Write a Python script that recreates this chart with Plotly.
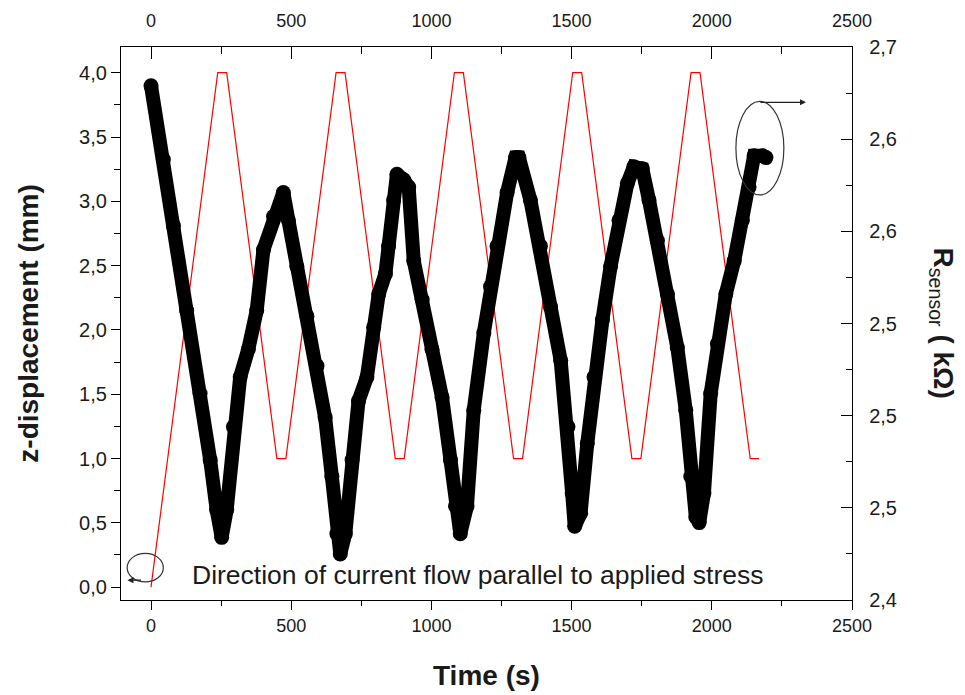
"""
Sensor resistance vs applied z-displacement (cyclic loading).
"""

import plotly.graph_objects as go

# red triangular z-displacement program (left axis, mm)
disp_t = [0, 238, 270, 449, 481, 660, 692, 871, 903, 1082, 1114, 1293, 1325,
          1504, 1536, 1715, 1747, 1926, 1958, 2137, 2169]
disp_mm = [0.0, 4.0, 4.0, 1.0, 1.0, 4.0, 4.0, 1.0, 1.0, 4.0, 4.0, 1.0, 1.0,
           4.0, 4.0, 1.0, 1.0, 4.0, 4.0, 1.0, 1.0]

# black sensor resistance (right axis, kOhm)
res_t = [0, 44, 80, 127, 175, 211, 234, 252, 270, 294, 318, 347, 377, 401, 437,
         472, 490, 520, 556, 592, 621, 645, 663, 675, 693, 717, 740, 770, 794,
         812, 836, 847, 865, 877, 901, 919, 937, 967, 1002, 1038, 1068, 1086,
         1103, 1127, 1151, 1187, 1211, 1234, 1270, 1300, 1312, 1353, 1389,
         1425, 1461, 1487, 1502, 1511, 1532, 1556, 1580, 1610, 1639, 1669,
         1699, 1722, 1752, 1776, 1806, 1842, 1877, 1907, 1925, 1943, 1955,
         1972, 1996, 2020, 2050, 2080, 2109, 2133, 2151, 2181, 2193]
res_kohm = [2.679, 2.639, 2.603, 2.557, 2.512, 2.476, 2.449, 2.434, 2.449,
            2.494, 2.521, 2.536, 2.557, 2.590, 2.608, 2.621, 2.606, 2.581,
            2.554, 2.527, 2.499, 2.467, 2.436, 2.425, 2.436, 2.476, 2.508,
            2.521, 2.548, 2.566, 2.577, 2.592, 2.617, 2.631, 2.628, 2.624,
            2.584, 2.563, 2.536, 2.510, 2.476, 2.451, 2.436, 2.451, 2.503,
            2.545, 2.570, 2.592, 2.621, 2.640, 2.640, 2.617, 2.592, 2.559,
            2.530, 2.494, 2.458, 2.440, 2.447, 2.485, 2.521, 2.552, 2.581,
            2.606, 2.626, 2.635, 2.634, 2.617, 2.595, 2.566, 2.537, 2.503,
            2.467, 2.445, 2.442, 2.458, 2.512, 2.539, 2.566, 2.584, 2.606,
            2.624, 2.641, 2.641, 2.640]

x_ticks = [0, 500, 1000, 1500, 2000, 2500]
left_ticks = [0.0, 0.5, 1.0, 1.5, 2.0, 2.5, 3.0, 3.5, 4.0]
left_labels = ["0,0", "0,5", "1,0", "1,5", "2,0", "2,5", "3,0", "3,5", "4,0"]
right_ticks = [2.40, 2.45, 2.50, 2.55, 2.60, 2.65, 2.70]
right_labels = ["2,4", "2,5", "2,5", "2,5", "2,6", "2,6", "2,7"]

FONT = "Liberation Sans, Arial, sans-serif"
INK = "#1a1a1a"

fig = go.Figure()
fig.add_trace(
    go.Scatter(
        x=disp_t, y=disp_mm, xaxis="x", yaxis="y",
        mode="lines",
        line=dict(color="#ff0000", width=1.2),
        showlegend=False,
    )
)
# transparent copy so the top (x2) axis gets drawn
fig.add_trace(
    go.Scatter(
        x=disp_t, y=disp_mm, xaxis="x2", yaxis="y",
        mode="lines", line=dict(width=0), opacity=0,
        hoverinfo="skip", showlegend=False,
    )
)
fig.add_trace(
    go.Scatter(
        x=res_t, y=res_kohm, xaxis="x", yaxis="y2",
        mode="lines+markers",
        line=dict(color="black", width=14),
        marker=dict(color="black", size=15),
        showlegend=False,
    )
)

axis_common = dict(
    showline=True, linecolor="black", linewidth=1.3,
    showgrid=False, zeroline=False, automargin=False,
    tickcolor="black", tickwidth=1.3,
)

# page body adds an 8px offset, so the figure is 8px smaller than the window
fig.update_layout(
    width=957, height=687,
    margin=dict(l=113, r=113, t=39, b=95),
    paper_bgcolor="white", plot_bgcolor="white",
    xaxis=dict(
        **axis_common, range=[-107, 2500], anchor="y",
        tickfont=dict(family=FONT, size=18, color=INK),
        tickmode="array", tickvals=x_ticks, ticktext=[str(v) for v in x_ticks],
        ticks="outside", ticklen=9,
        minor=dict(tickmode="linear", tick0=0, dtick=250, ticks="outside",
                   ticklen=5, tickcolor="black", tickwidth=1.3),
    ),
    xaxis2=dict(
        **axis_common, range=[-107, 2500], overlaying="x", side="top", anchor="y",
        tickfont=dict(family=FONT, size=18, color=INK),
        tickmode="array", tickvals=x_ticks, ticktext=[str(v) for v in x_ticks],
        ticks="inside", ticklen=12, ticklabelstandoff=12,
        minor=dict(tickmode="linear", tick0=0, dtick=250, ticks="inside",
                   ticklen=7, tickcolor="black", tickwidth=1.3),
    ),
    yaxis=dict(
        **axis_common, range=[-0.1, 4.2], anchor="x",
        tickfont=dict(family=FONT, size=20, color=INK),
        tickmode="array", tickvals=left_ticks, ticktext=left_labels,
        ticks="outside", ticklen=9,
        minor=dict(tickmode="linear", tick0=0, dtick=0.25, ticks="outside",
                   ticklen=6, tickcolor="black", tickwidth=1.3),
    ),
    yaxis2=dict(
        **axis_common, range=[2.4, 2.7], overlaying="y", side="right", anchor="x",
        tickfont=dict(family=FONT, size=20, color=INK),
        tickmode="array", tickvals=right_ticks, ticktext=right_labels,
        ticks="inside", ticklen=11, ticklabelstandoff=12,
        minor=dict(tickmode="linear", tick0=2.4, dtick=0.025, ticks="inside",
                   ticklen=6, tickcolor="black", tickwidth=1.3),
    ),
)

title_font = dict(family=FONT, size=28, color=INK)
fig.add_annotation(
    text="<b>Time (s)</b>", xref="paper", yref="paper", x=0.5, y=-0.137,
    xanchor="center", yanchor="middle", showarrow=False, font=title_font,
)
fig.add_annotation(
    text="<b>z-displacement (mm)</b>", xref="paper", yref="paper", x=-0.127, y=0.5,
    xanchor="center", yanchor="middle", textangle=-90, showarrow=False,
    font=title_font,
)
# right axis title reads top to bottom
fig.add_annotation(
    text="<b>R</b><sub>sensor</sub><b> ( kΩ)</b>",
    xref="paper", yref="paper", x=1.123, y=0.5,
    xanchor="center", yanchor="middle", textangle=90, showarrow=False,
    font=dict(family=FONT, size=28, color=INK),
)

fig.add_annotation(
    text="Direction of current flow parallel to applied stress",
    xref="x", yref="y", x=139, y=0.096,
    xanchor="left", yanchor="middle", showarrow=False,
    font=dict(family=FONT, size=26.5, color=INK),
)

# ellipses with arrows marking which axis each curve belongs to
fig.add_shape(type="circle", xref="x", yref="y", x0=-85, x1=44, y0=0.041, y1=0.262,
              line=dict(color="#333333", width=1.2))
fig.add_annotation(x=-84, y=0.054, ax=-30, ay=0.054, xref="x", yref="y",
                   axref="x", ayref="y", text="", showarrow=True,
                   arrowhead=2, arrowsize=1, arrowwidth=1.2, arrowcolor="#222222")

fig.add_shape(type="circle", xref="x", yref="y", x0=2086, x1=2257, y0=3.05, y1=3.777,
              line=dict(color="#333333", width=1.2))
fig.add_annotation(x=2336, y=3.77, ax=2168, ay=3.77, xref="x", yref="y",
                   axref="x", ayref="y", text="", showarrow=True,
                   arrowhead=2, arrowsize=1, arrowwidth=1.2, arrowcolor="#222222")

fig.write_html("out.html")
